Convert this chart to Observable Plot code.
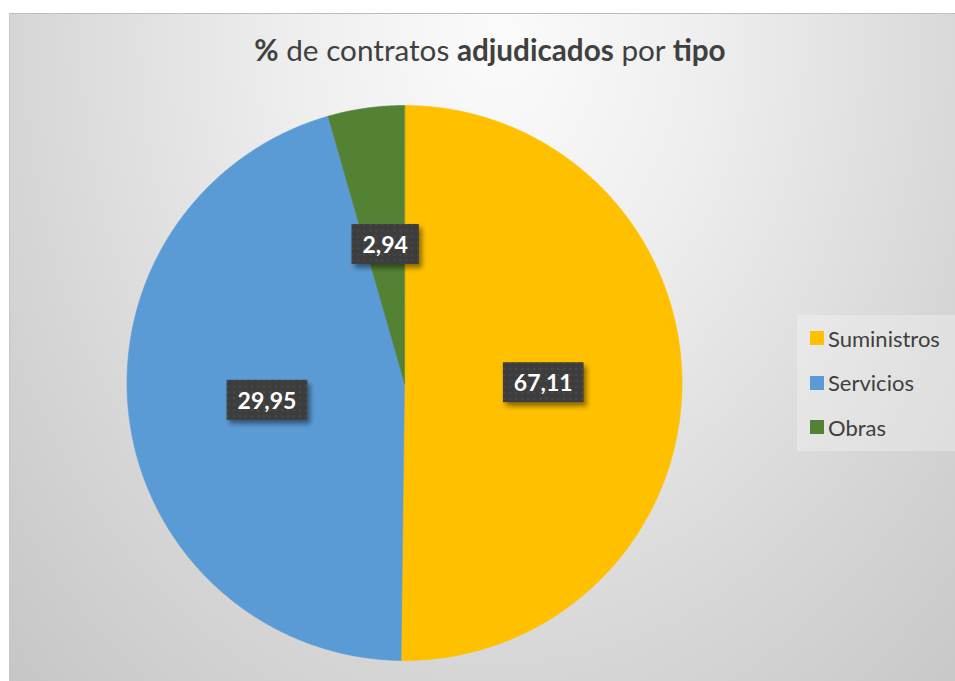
<!DOCTYPE html>
<html>
<head>
<meta charset="utf-8">
<script src="https://cdn.jsdelivr.net/npm/d3@7"></script>
<script src="https://cdn.jsdelivr.net/npm/@observablehq/plot@0.6"></script>
<style>
  html, body { margin: 0; padding: 0; background: #fff; }
  #wrap { position: relative; width: 955px; height: 681px; overflow: hidden; background: #fff; }
  #panel { position: absolute; left: 9px; top: 13px; width: 946px; height: 668px;
    border-top: 1px solid #bdbdbd; border-left: 1px solid #c8c8c8; box-sizing: border-box;
    background: radial-gradient(farthest-corner at 52% 4%, #fbfbfb 0%, #eeeeee 30%, #d6d6d6 70%, #c6c6c6 100%); }
  #title { position: absolute; left: 0; width: 980px; top: 30px; line-height: 40px; text-align: center;
    font-family: Lato, "Open Sans", sans-serif; font-size: 29.7px; color: #404040; white-space: nowrap; }
  #title b { font-weight: 700; }
  #chart { position: absolute; left: 0; top: 0; }
  #legend { position: absolute; left: 797px; top: 315px; width: 158px; height: 136px;
    background: rgba(255,255,255,0.28); font-family: Lato, "Open Sans", sans-serif; font-size: 22px; color: #404040; }
  .item { position: absolute; left: 13px; height: 24px; display: flex; align-items: center; }
  .sw { width: 14px; height: 14px; margin-right: 4px; }
</style>
</head>
<body>
<div id="wrap">
  <div id="panel"></div>
  <div id="title"><b>%</b> de contratos <b>adjudicados</b> por <b>tipo</b></div>
  <div id="chart"></div>
  <div id="legend"></div>
</div>
<script>
// Categories, slice shares (as drawn), label texts, colours
const categories = ["Suministros", "Servicios", "Obras"];
const sliceShares = [50.2, 45.36, 4.44];
const labelTexts = ["67,11", "29,95", "2,94"];
const colors = ["#FFC000", "#5B9BD5", "#548235"];

const rows = categories.map((c, i) => ({category: c, share: sliceShares[i], label: labelTexts[i], color: colors[i]}));
const arcs = d3.pie().sort(null).value(d => d.share)(rows);

const step = Math.PI / 720;
const sliceMarks = arcs.map(a => {
  const pts = [{x: 0, y: 0}];
  const n = Math.max(2, Math.ceil((a.endAngle - a.startAngle) / step));
  for (let k = 0; k <= n; k++) {
    const t = a.startAngle + (a.endAngle - a.startAngle) * k / n;
    pts.push({x: Math.sin(t), y: Math.cos(t)});
  }
  return Plot.line(pts, {x: "x", y: "y", fill: a.data.color, stroke: a.data.color, strokeWidth: 0.6, curve: "linear-closed"});
});

const labels = arcs.map(a => {
  const m = (a.startAngle + a.endAngle) / 2;
  return {x: 0.5 * Math.sin(m), y: 0.5 * Math.cos(m), label: a.data.label};
});

const plot = Plot.plot({
  width: 955, height: 681,
  x: {domain: [-1, 1], range: [126.5, 681.5]},
  y: {domain: [-1, 1], range: [660, 105]},
  axis: null,
  style: {background: "transparent", overflow: "visible"},
  marks: [
    ...sliceMarks,
    Plot.text(labels, {x: "x", y: "y", text: "label", fill: "white", fontSize: 23, fontWeight: "bold",
      fontFamily: "Lato, 'Open Sans', sans-serif", className: "dlabel"})
  ]
});
document.getElementById("chart").appendChild(plot);

// Dark label boxes behind the text
const svg = d3.select(plot);
const defs = svg.insert("defs", ":first-child");
const pat = defs.append("pattern").attr("id", "dots").attr("width", 6).attr("height", 6).attr("patternUnits", "userSpaceOnUse");
pat.append("rect").attr("width", 6).attr("height", 6).attr("fill", "#3d3d3d");
pat.append("rect").attr("x", 2).attr("y", 2).attr("width", 2).attr("height", 2).attr("fill", "#4a4a4a");
const flt = defs.append("filter").attr("id", "sh").attr("x", "-30%").attr("y", "-30%").attr("width", "170%").attr("height", "170%");
flt.append("feDropShadow").attr("dx", 3).attr("dy", 4).attr("stdDeviation", 2.5).attr("flood-color", "#000").attr("flood-opacity", 0.45);

svg.selectAll("g.dlabel text").each(function() {
  const b = this.getBBox();
  const padX = 11;
  const tr = this.getAttribute("transform");
  const rect = d3.select(this.parentNode).insert("rect", () => this)
    .attr("x", b.x - padX).attr("y", b.y + b.height / 2 - 20)
    .attr("width", b.width + 2 * padX).attr("height", 40)
    .attr("fill", "url(#dots)").attr("filter", "url(#sh)");
  if (tr) rect.attr("transform", tr);
});

// Legend
const leg = d3.select("#legend");
rows.forEach((r, i) => {
  const it = leg.append("div").attr("class", "item").style("top", (11 + i * 44.5) + "px");
  it.append("div").attr("class", "sw").style("background", r.color);
  it.append("span").text(r.category);
});
</script>
</body>
</html>
